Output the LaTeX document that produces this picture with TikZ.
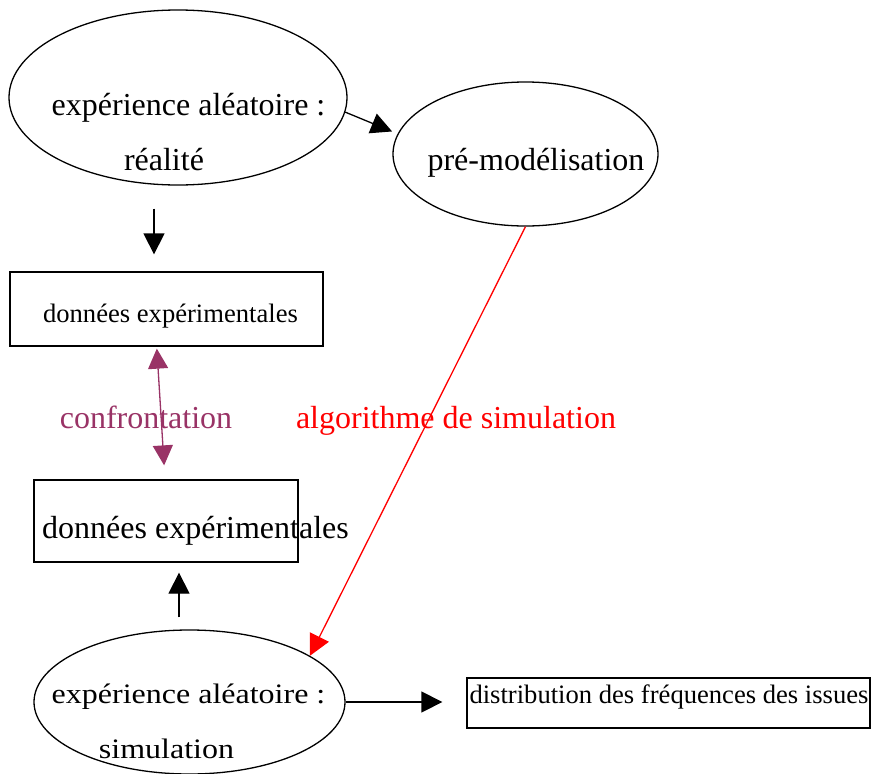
\documentclass[tikz,border=0pt]{standalone}
\usepackage{fontspec}
\setmainfont{Liberation Serif}
\usetikzlibrary{arrows.meta,shapes.geometric}
\definecolor{plum}{RGB}{153,51,102}
\begin{document}
\begin{tikzpicture}[x=1pt,y=-1pt,
  oval/.style={draw,ellipse,line width=1.3pt,inner sep=0pt},
  box/.style={draw,rectangle,line width=1.3pt,inner sep=0pt},
  lbl/.style={anchor=base,inner sep=0pt,font=\fontsize{32}{38}\selectfont},
  lblc/.style={anchor=base,inner sep=0pt,font=\fontsize{32}{38}\selectfont,yscale=0.88},
  small/.style={anchor=base,inner sep=0pt,font=\fontsize{26.6}{32}\selectfont},
  arr/.style={line width=1.3pt,-{Triangle[length=21pt,width=21pt]}},
]
\useasboundingbox (0,0) rectangle (871,774);
% shapes
\node[oval,minimum width=338pt,minimum height=175pt] (e1) at (178,97.5) {};
\node[oval,minimum width=265pt,minimum height=144pt] (e2) at (525.5,154) {};
\node[box,minimum width=313pt,minimum height=74pt] (r1) at (166.5,309) {};
\node[box,minimum width=264pt,minimum height=82pt] (r2) at (166,521) {};
\node[oval,minimum width=311pt,minimum height=144pt] (e3) at (189.5,702) {};
\node[box,minimum width=403pt,minimum height=50pt] (r3) at (668.5,703) {};
% texts
\node[lbl] (t1a) at (188.5,115) {expérience aléatoire :};
\node[lbl] (t1b) at (164,170) {réalité};
\node[lbl] (t2) at (536,170.7) {pré-modélisation};
\node[small] (t3) at (170.5,322) {données expérimentales};
\node[lbl] (t4) at (195.5,538) {données expérimentales};
\node[lblc] (t5a) at (188.5,703) {expérience aléatoire :};
\node[lblc] (t5b) at (166.5,758) {simulation};
\node[small] (t6) at (669,703) {distribution des fréquences des issues};
\node[lbl,text=plum] (c) at (146,428) {confrontation};
\node[lbl,text=red] (alg) at (456,428) {algorithme de simulation};
% connectors
\draw[arr,shorten >=6pt] (e1.-5) -- (e2.171);
\draw[arr,shorten <=23pt,shorten >=17pt] ([xshift=-24pt]e1.south) -- ([xshift=-12.5pt]r1.north);
\draw[line width=1.3pt,plum,{Triangle[length=20pt,width=20pt]}-{Triangle[length=20pt,width=20pt]},shorten <=2pt,shorten >=14pt] ([xshift=-9.8pt]r1.south) -- ([xshift=-1pt]r2.north);
\draw[arr,shorten <=12pt,shorten >=10pt] ([xshift=-10.5pt]e3.north) -- ([xshift=13pt]r2.south);
\draw[arr,red] (e2.south) -- (e3.21);
\draw[arr,shorten >=24pt] (e3.east) -- (e3.east -| r3.west);
\end{tikzpicture}
\end{document}
